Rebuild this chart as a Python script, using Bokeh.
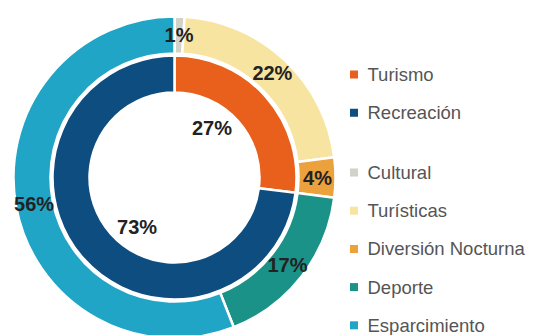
import math
from bokeh.plotting import figure
from bokeh.models import Range1d, ColumnDataSource
from bokeh.core.properties import value
from bokeh.embed import file_html
from bokeh.resources import INLINE

# ---- data ----
inner_labels = ["Turismo", "Recreación"]
inner_values = [27, 73]
inner_colors = ["#e8601c", "#0e4d80"]

outer_labels = ["Cultural", "Turísticas", "Diversión Nocturna", "Deporte", "Esparcimiento"]
outer_values = [1, 22, 4, 17, 56]
outer_colors = ["#d2d2c8", "#f7e4a1", "#eba13c", "#1b9287", "#20a5c6"]

W, H = 536, 335
p = figure(width=W, height=H, output_backend="svg", toolbar_location=None,
           x_range=Range1d(0, W), y_range=Range1d(-H, 0),
           min_border=0, tools="")
p.axis.visible = False
p.grid.visible = False
p.outline_line_color = None
p.background_fill_color = "white"

cx, cy = 174, -177
hole_r, inner_r_out = 85, 122
outer_r_in, outer_r_out = 124, 161


def ring(labels, values, colors, r_in, r_out, lab_r, lab_shift):
    total = float(sum(values))
    starts, ends, lx, ly, txt = [], [], [], [], []
    cum = 0.0
    for v in values:
        a0 = math.pi / 2 - 2 * math.pi * cum / total
        a1 = math.pi / 2 - 2 * math.pi * (cum + v) / total
        starts.append(a0)
        ends.append(a1)
        mid = (a0 + a1) / 2 + lab_shift
        lx.append(cx + lab_r * math.cos(mid))
        ly.append(cy + lab_r * math.sin(mid))
        txt.append(f"{v}%")
        cum += v
    src = ColumnDataSource(dict(start=starts, end=ends, color=colors, label=labels))
    p.annular_wedge(x=cx, y=cy, inner_radius=r_in, outer_radius=r_out,
                    start_angle="start", end_angle="end", direction="clock",
                    fill_color="color", line_color="white", line_width=2.5, source=src)
    tsrc = ColumnDataSource(dict(x=lx, y=ly, t=txt))
    p.text(x="x", y="y", text="t", source=tsrc, text_align="center",
           text_baseline="middle", text_font=value("Liberation Sans"),
           text_font_style="bold", text_font_size="20px", text_color="#222222")


ring(outer_labels, outer_values, outer_colors, outer_r_in, outer_r_out, 143, 0.0)
ring(inner_labels, inner_values, inner_colors, hole_r, inner_r_out, 62, 0.2)

# ---- legend ----
leg_x = 353.5
txt_x = 367
gy1, gy2, step = -74, -172, -38.2
groups = [(inner_labels, inner_colors, gy1), (outer_labels, outer_colors, gy2)]
for labs, cols, y0 in groups:
    ys = [y0 + i * step for i in range(len(labs))]
    p.scatter(x=[leg_x] * len(labs), y=ys, marker="square", size=8,
              fill_color=cols, line_color=None)
    p.text(x=[txt_x] * len(labs), y=ys, text=labs, text_align="left",
           text_baseline="middle", text_font=value("Liberation Sans"),
           text_font_size="18.5px", text_color="#555555")

open("out.html", "w").write(file_html(p, INLINE))
